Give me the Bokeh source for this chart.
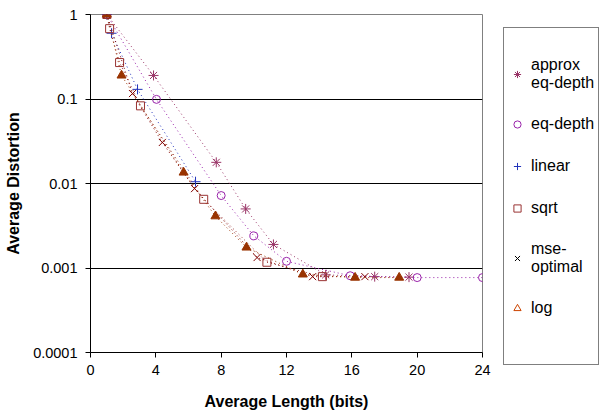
from bokeh.plotting import figure
from bokeh.models import FixedTicker, Legend, LegendItem, ColumnDataSource
from bokeh.embed import file_html
from bokeh.resources import INLINE

# ---- data ----
approx_x = [1.0, 3.86, 7.7, 9.5, 11.2, 14.4, 17.4, 19.5]
approx_y = [1.0, 0.19, 0.0178, 0.005, 0.0019, 0.00083, 0.00079, 0.00078]

eqd_x = [1.0, 4.04, 8.0, 10.0, 12.0, 15.9, 20.0, 24.0]
eqd_y = [1.0, 0.099, 0.0072, 0.0024, 0.0012, 0.00081, 0.00077, 0.00077]

linear_x = [1.0, 1.29, 2.88, 6.43]
linear_y = [1.0, 0.6, 0.13, 0.0105]

sqrt_x = [1.0, 1.17, 1.78, 3.06, 6.93, 10.8, 14.2]
sqrt_y = [1.0, 0.68, 0.27, 0.083, 0.0065, 0.00117, 0.00079]

mse_x = [1.0, 2.57, 4.4, 6.37, 10.2, 13.6, 16.8]
mse_y = [1.0, 0.116, 0.0306, 0.0087, 0.00133, 0.00079, 0.00079]

log_x = [1.0, 1.9, 5.7, 7.65, 9.55, 13.0, 16.2, 18.9]
log_y = [1.0, 0.19, 0.0135, 0.0041, 0.00175, 0.00084, 0.00077, 0.00077]

x_ticks = [0, 4, 8, 12, 16, 20, 24]
y_ticks = [0.0001, 0.001, 0.01, 0.1, 1]
y_tick_labels = ["0.0001", "0.001", "0.01", "0.1", "1"]

FONT = "Liberation Sans"

p = figure(frame_width=392, frame_height=338, output_backend="svg", toolbar_location=None,
           x_range=(0, 24), y_range=(0.0001, 1), y_axis_type="log",
           min_border_left=90, min_border_right=121, min_border_top=14, min_border_bottom=62)

p.outline_line_color = "#808080"
p.xgrid.visible = False
p.ygrid.grid_line_color = "#000000"
p.ygrid.grid_line_width = 1
p.ygrid.ticker = FixedTicker(ticks=y_ticks)

p.xaxis.ticker = FixedTicker(ticks=x_ticks)
p.yaxis.ticker = FixedTicker(ticks=y_ticks)
p.yaxis.major_label_overrides = {t: l for t, l in zip(y_ticks, y_tick_labels)}
for ax in (p.xaxis, p.yaxis):
    ax.axis_line_color = "#000000"
    ax.major_tick_line_color = "#000000"
    ax.major_tick_out = 5
    ax.major_tick_in = 0
    ax.minor_tick_line_color = None
    ax.major_label_text_font = FONT
    ax.major_label_text_font_size = "14.5px"
    ax.major_label_text_color = "#000000"
    ax.axis_label_text_font = FONT
    ax.axis_label_text_font_size = "16px"
    ax.axis_label_text_font_style = "bold"
    ax.axis_label_text_color = "#000000"
p.xaxis.major_label_standoff = 7
p.yaxis.major_label_standoff = 8
p.xaxis.axis_label = "Average Length (bits)"
p.yaxis.axis_label = "Average Distortion"
p.xaxis.axis_label_standoff = 15
p.yaxis.axis_label_standoff = 8

series = [
    ("approx\neq-depth", approx_x, approx_y, "asterisk", "#993366", 10, None, "#993366"),
    ("eq-depth", eqd_x, eqd_y, "circle", "#9922AA", 8, None, "#9922AA"),
    ("linear", linear_x, linear_y, "cross", "#2233BB", 10, None, "#2233BB"),
    ("sqrt", sqrt_x, sqrt_y, "square", "#993333", 8, None, "#993333"),
    ("mse-\noptimal", mse_x, mse_y, "x", "#800000", 10, None, "#000000"),
    ("log", log_x, log_y, "triangle", "#993300", 9, "#993300", "#CC4400"),
]

items = []
for name, xs, ys, marker, color, size, fill, leg_color in series:
    src = ColumnDataSource(dict(x=xs, y=ys))
    p.line("x", "y", source=src, line_color=color, line_width=1, line_dash="1 3")
    p.scatter("x", "y", source=src, marker=marker, size=size, line_color=color,
              fill_color=fill, line_width=1)
    # hidden proxy renderer, only used to draw the (Excel-style) legend marker
    proxy = p.scatter("x", "y", source=src, marker=marker, size=8, line_color=leg_color,
                      fill_color=None, line_width=1, visible=False)
    items.append(LegendItem(label=name, renderers=[proxy]))

blank_src = ColumnDataSource(dict(x=log_x, y=log_y))
blank = p.scatter("x", "y", source=blank_src, marker="circle", size=1,
                  line_alpha=0, fill_alpha=0, visible=False)
items.append(LegendItem(label=" ", renderers=[blank]))

legend = Legend(items=items, location=(21, -13))
legend.title = " "
legend.title_text_font_size = "17px"
legend.title_standoff = 4
legend.border_line_color = "#000000"
legend.border_line_width = 1
legend.background_fill_color = "#ffffff"
legend.background_fill_alpha = 1
legend.label_text_font = FONT
legend.label_text_font_size = "16px"
legend.label_text_line_height = 1.25
legend.label_text_color = "#000000"
legend.label_height = 20
legend.glyph_height = 20
legend.glyph_width = 18
legend.label_standoff = 5
legend.spacing = 22
legend.padding = 4
legend.margin = 0
p.add_layout(legend, "right")

open("out.html", "w").write(file_html(p, INLINE))
